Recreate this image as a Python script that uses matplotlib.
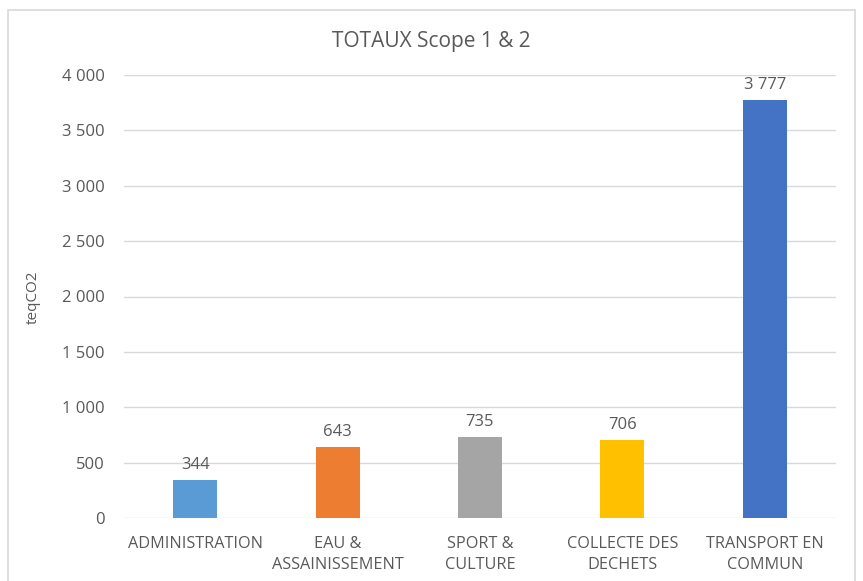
import matplotlib
matplotlib.use("Agg")
import matplotlib.pyplot as plt
from matplotlib.patches import Rectangle
from matplotlib.ticker import FuncFormatter

categories = ["ADMINISTRATION", "EAU &\nASSAINISSEMENT", "SPORT &\nCULTURE",
              "COLLECTE DES\nDECHETS", "TRANSPORT EN\nCOMMUN"]
values = [344, 643, 735, 706, 3777]
colors = ["#5B9BD5", "#ED7D31", "#A5A5A5", "#FFC000", "#4472C4"]
yticks = [0, 500, 1000, 1500, 2000, 2500, 3000, 3500, 4000]

plt.rcParams['font.family'] = ['Open Sans', 'DejaVu Sans']
txt = "#595959"

def fmt(v):
    return f"{int(v):,}".replace(",", " ")

fig = plt.figure(figsize=(8.63, 5.81), dpi=100)
fig.patches.append(Rectangle((8/863, -0.02), 847/863, (581-10)/581 + 0.02,
                             transform=fig.transFigure, fill=False,
                             edgecolor="#D9D9D9", linewidth=1.2))
ax = fig.add_axes([124/863, 1-518/581, (836-124)/863, (518-75)/581])
x = range(len(categories))
bars = ax.bar(x, values, width=0.31, color=colors, zorder=3)
ax.set_xlim(-0.5, len(categories)-0.5)
ax.set_ylim(0, 4000)
ax.set_yticks(yticks)
ax.yaxis.set_major_formatter(FuncFormatter(lambda v, p: fmt(v)))
ax.grid(axis="y", color="#D9D9D9", linewidth=1, zorder=0)
for s in ax.spines.values():
    s.set_visible(False)
ax.tick_params(axis="both", length=0, colors=txt, labelsize=12)
ax.tick_params(axis="y", pad=14)
ax.tick_params(axis="x", pad=13)
ax.set_xticks(list(x))
ax.set_xticklabels(categories, color=txt, fontsize=11.7, linespacing=1.45)
for b, v in zip(bars, values):
    ax.annotate(fmt(v), (b.get_x()+b.get_width()/2, v), xytext=(0, 5),
                textcoords="offset points", ha="center", va="bottom",
                color=txt, fontsize=12)
fig.text(33/863, 1-297/581, "teqCO2", rotation=90, ha="center", va="center",
         color=txt, fontsize=11)
fig.text(0.5, 1-42/581, "TOTAUX Scope 1 & 2", ha="center", va="center",
         color=txt, fontsize=15)
fig.savefig("out.png", dpi=100)
